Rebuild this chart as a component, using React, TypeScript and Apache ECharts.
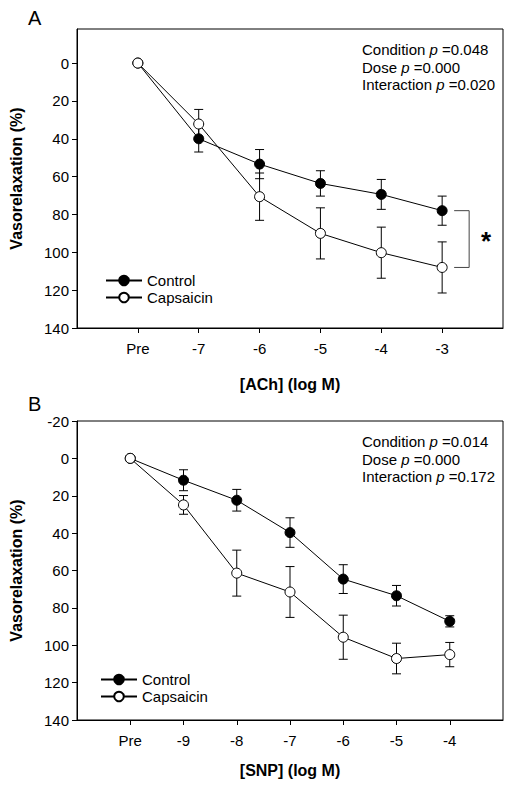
import React, { useEffect, useRef } from 'react';
import * as echarts from 'echarts';

// Panel A: ACh
const labelsA = ['Pre', '-7', '-6', '-5', '-4', '-3'];
const controlA = [0, 40, 53.4, 63.6, 69.4, 78];
const controlAErr = [0, 7, 7.7, 6.7, 7.9, 7.7];
const capsA = [0, 32.2, 70.6, 90, 100.2, 108];
const capsAErr = [0, 7.7, 12.5, 13.5, 13.5, 13.5];
const statsA = ['0.048', '0.000', '0.020'];

// Panel B: SNP
const labelsB = ['Pre', '-9', '-8', '-7', '-6', '-5', '-4'];
const controlB = [0, 11.7, 22.4, 39.7, 64.6, 73.5, 87.2];
const controlBErr = [0, 5.6, 5.8, 7.9, 7.7, 5.5, 3];
const capsB = [0, 24.9, 61.4, 71.5, 95.7, 107.1, 105];
const capsBErr = [0, 5, 12.3, 13.6, 11.8, 8.2, 6.5];
const statsB = ['0.014', '0.000', '0.172'];

const yTicks = [0, 20, 40, 60, 80, 100, 120, 140];
const yTicksB = [-20, 0, 20, 40, 60, 80, 100, 120, 140];
const statNames = ['Condition', 'Dose', 'Interaction'];

const FONT = '"Liberation Sans", Arial, sans-serif';

const errRender = (params: any, api: any) => {
  const x = api.value(0);
  const y = api.value(1);
  const e = api.value(2);
  if (!e) return { type: 'group', children: [] };
  const hi = api.coord([x, y - e]);
  const lo = api.coord([x, y + e]);
  const hw = 4.5;
  const st = { stroke: '#000', lineWidth: 1 };
  return {
    type: 'group',
    children: [
      { type: 'line', shape: { x1: hi[0], y1: hi[1], x2: lo[0], y2: lo[1] }, style: st },
      { type: 'line', shape: { x1: hi[0] - hw, y1: hi[1], x2: hi[0] + hw, y2: hi[1] }, style: st },
      { type: 'line', shape: { x1: lo[0] - hw, y1: lo[1], x2: lo[0] + hw, y2: lo[1] }, style: st },
    ],
  };
};

const bracketRender = (params: any, api: any) => {
  const x = api.value(0);
  const y1 = api.value(1);
  const y2 = api.value(2);
  const p1 = api.coord([x, y1]);
  const p2 = api.coord([x, y2]);
  const xa = p1[0] + 12;
  const xb = p1[0] + 27;
  return {
    type: 'group',
    children: [
      {
        type: 'polyline',
        shape: { points: [[xa, p1[1]], [xb, p1[1]], [xb, p2[1]], [xa, p2[1]]] },
        style: { stroke: '#444', lineWidth: 1, fill: 'none' },
      },
      {
        type: 'text',
        x: p1[0] + 44,
        y: (p1[1] + p2[1]) / 2 + 2,
        style: { text: '*', font: `bold 26px ${FONT}`, fill: '#000', align: 'center', verticalAlign: 'middle' },
      },
    ],
  };
};

function xAxisCfg(gridIndex: number, labels: string[]) {
  const idx = labels.map((_, i) => i);
  return {
    type: 'value',
    gridIndex,
    min: -1,
    max: labels.length,
    axisLine: { show: true, onZero: false, lineStyle: { color: '#000', width: 1 } },
    axisTick: { show: true, length: 5, lineStyle: { color: '#000' }, customValues: idx },
    axisLabel: {
      show: true,
      customValues: idx,
      margin: 13,
      color: '#000',
      fontSize: 15,
      fontFamily: FONT,
      formatter: (v: number) => labels[Math.round(v)] ?? '',
    },
    splitLine: { show: false },
  };
}

function yAxisCfg(gridIndex: number, min: number, ticks: number[]) {
  return {
    type: 'value',
    gridIndex,
    inverse: true,
    min,
    max: 140,
    axisLine: { show: true, onZero: false, lineStyle: { color: '#000', width: 1 } },
    axisTick: { show: true, length: 5, lineStyle: { color: '#000' }, customValues: ticks },
    axisLabel: { show: true, customValues: ticks, margin: 8, color: '#000', fontSize: 15, fontFamily: FONT },
    splitLine: { show: false },
  };
}

function lineSeries(name: string, vals: number[], axisIndex: number, filled: boolean) {
  return {
    type: 'line',
    name,
    xAxisIndex: axisIndex,
    yAxisIndex: axisIndex,
    data: vals.map((v, i) => [i, v]),
    symbol: 'circle',
    symbolSize: 10,
    lineStyle: { color: '#000', width: 1 },
    itemStyle: { color: filled ? '#000' : '#fff', borderColor: '#000', borderWidth: 1 },
    z: filled ? 3 : 4,
    clip: false,
  };
}

function errSeries(vals: number[], errs: number[], axisIndex: number) {
  return {
    type: 'custom',
    xAxisIndex: axisIndex,
    yAxisIndex: axisIndex,
    data: vals.map((v, i) => [i, v, errs[i]]),
    renderItem: errRender,
    z: 2,
    silent: true,
  };
}

function statTexts(top: number, vals: string[]) {
  return vals.map((v, i) => ({
    type: 'text',
    left: 362,
    top: top + i * 17.5,
    style: {
      text: `{n|${statNames[i]} }{i|p}{n| =${v}}`,
      rich: {
        n: { fontSize: 15, fontFamily: FONT, fill: '#000' },
        i: { fontSize: 15, fontFamily: FONT, fontStyle: 'italic', fill: '#000' },
      },
    },
  }));
}

function legendCfg(left: number, top: number) {
  return {
    orient: 'vertical',
    left,
    top,
    itemWidth: 36,
    itemHeight: 12,
    itemGap: 2,
    selectedMode: false,
    data: ['Control', 'Capsaicin'],
    textStyle: { fontSize: 15, fontFamily: FONT, color: '#000' },
  };
}

export default function App() {
  const ref = useRef<HTMLDivElement>(null);
  useEffect(() => {
    if (!ref.current) return;
    const chart = echarts.init(ref.current, undefined, { renderer: 'svg' });
    const last = labelsA.length - 1;
    chart.setOption({
      animation: false,
      backgroundColor: '#fff',
      grid: [
        { left: 77, top: 29, width: 426, height: 299, show: true, borderColor: '#000', borderWidth: 1 },
        { left: 77, top: 421, width: 426, height: 299, show: true, borderColor: '#000', borderWidth: 1 },
      ],
      xAxis: [xAxisCfg(0, labelsA), xAxisCfg(1, labelsB)],
      yAxis: [yAxisCfg(0, -18, yTicks), yAxisCfg(1, -20, yTicksB)],
      legend: [legendCfg(100, 268), legendCfg(95, 667)],
      series: [
        errSeries(controlA, controlAErr, 0),
        errSeries(capsA, capsAErr, 0),
        lineSeries('Control', controlA, 0, true),
        lineSeries('Capsaicin', capsA, 0, false),
        {
          type: 'custom',
          xAxisIndex: 0,
          yAxisIndex: 0,
          data: [[last, controlA[last], capsA[last]]],
          renderItem: bracketRender,
          silent: true,
          z: 1,
        },
        errSeries(controlB, controlBErr, 1),
        errSeries(capsB, capsBErr, 1),
        lineSeries('Control', controlB, 1, true),
        lineSeries('Capsaicin', capsB, 1, false),
      ],
      graphic: [
        { type: 'text', left: 28, top: 8, style: { text: 'A', font: `20px ${FONT}`, fill: '#000' } },
        { type: 'text', left: 28, top: 394, style: { text: 'B', font: `20px ${FONT}`, fill: '#000' } },
        {
          type: 'text', x: 16, y: 178.5, rotation: Math.PI / 2,
          style: { text: 'Vasorelaxation (%)', font: `bold 16px ${FONT}`, fill: '#000', align: 'center', verticalAlign: 'middle' },
        },
        {
          type: 'text', x: 16, y: 570.5, rotation: Math.PI / 2,
          style: { text: 'Vasorelaxation (%)', font: `bold 16px ${FONT}`, fill: '#000', align: 'center', verticalAlign: 'middle' },
        },
        {
          type: 'text', x: 290, y: 384,
          style: { text: '[ACh] (log M)', font: `bold 16px ${FONT}`, fill: '#000', align: 'center', verticalAlign: 'middle' },
        },
        {
          type: 'text', x: 290, y: 770,
          style: { text: '[SNP] (log M)', font: `bold 16px ${FONT}`, fill: '#000', align: 'center', verticalAlign: 'middle' },
        },
        ...statTexts(42, statsA),
        ...statTexts(434, statsB),
      ],
    });
    return () => chart.dispose();
  }, []);
  return <div ref={ref} style={{ position: 'absolute', left: 0, top: 0, width: 512, height: 793 }} />;
}
